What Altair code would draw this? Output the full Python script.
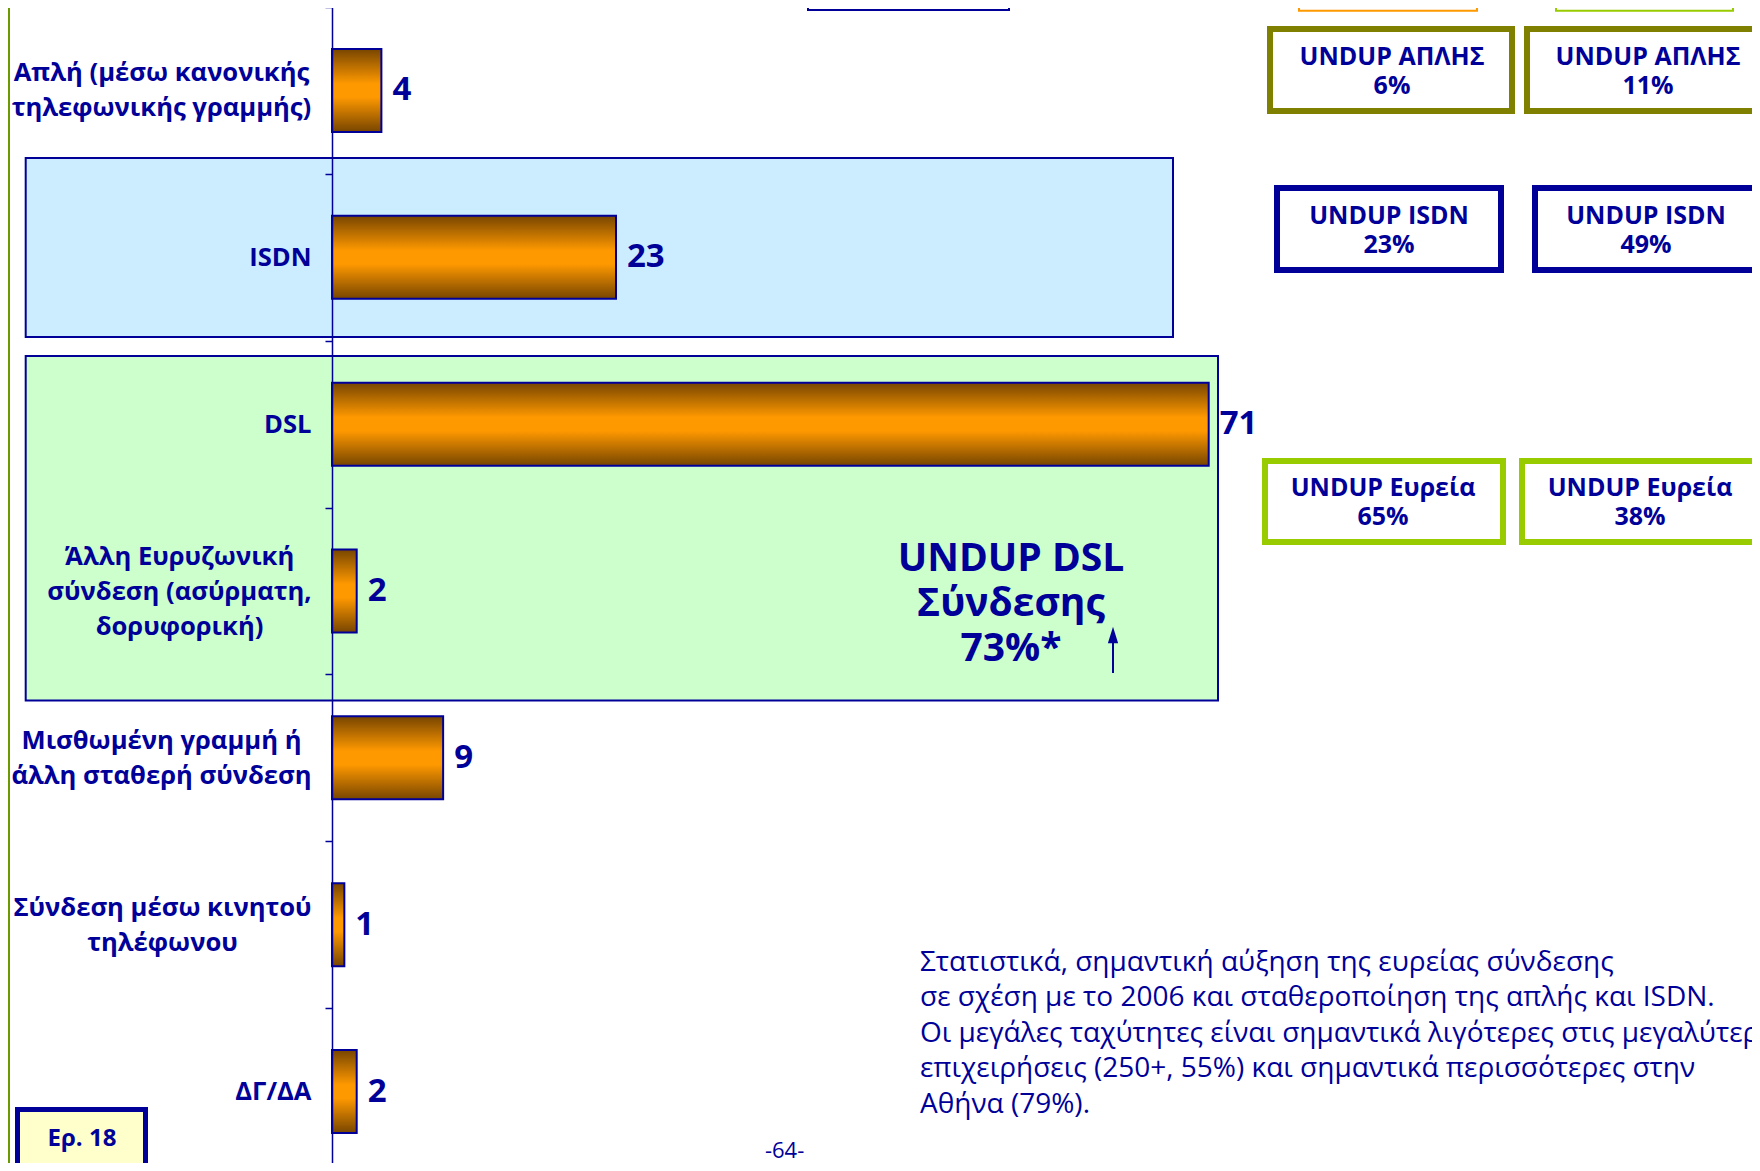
import altair as alt
import pandas as pd

# ---------------- data ----------------
categories = [
    "Απλή (μέσω κανονικής|τηλεφωνικής γραμμής)",
    "ISDN",
    "DSL",
    "Άλλη Ευρυζωνική|σύνδεση (ασύρματη,|δορυφορική)",
    "Μισθωμένη γραμμή ή|άλλη σταθερή σύνδεση",
    "Σύνδεση μέσω κινητού|τηλέφωνου",
    "ΔΓ/ΔΑ",
]
values = [4, 23, 71, 2, 9, 1, 2]

box_titles = ["UNDUP ΑΠΛΗΣ", "UNDUP ΑΠΛΗΣ", "UNDUP ISDN", "UNDUP ISDN", "UNDUP Ευρεία", "UNDUP Ευρεία"]
box_values = ["6%", "11%", "23%", "49%", "65%", "38%"]

dsl_note = ["UNDUP DSL", "Σύνδεσης", "73%*"]
paragraph = [
    "Στατιστικά, σημαντική αύξηση της ευρείας σύνδεσης",
    "σε σχέση με το 2006 και σταθεροποίηση της απλής και ISDN.",
    "Οι μεγάλες ταχύτητες είναι σημαντικά λιγότερες στις μεγαλύτερες",
    "επιχειρήσεις (250+, 55%) και σημαντικά περισσότερες στην",
    "Αθήνα (79%).",
]
question_label = "Ερ. 18"
page_label = "-64-"

# ---------------- style ----------------
NAVY = "#000099"
FONT = "Open Sans"
OX, OY = 332, 8          # page position of the plot origin
PAD_LEFT = OX - 8
LABEL_LH = 35
TICK = 7
LABEL_SIZE = 25.6

# per-label horizontal centre distance (from tick end) for the multi-line labels
label_centre_pad = {
    categories[0]: 164,
    categories[3]: 146,
    categories[4]: 164,
    categories[5]: 163,
}

df = pd.DataFrame({"cat": categories, "val": values})
one = alt.Data(values=[{"a": 1}])


def px(x):
    return x - OX


def py(y):
    return y - OY


def rect(x1, y1, x2, y2, fill, stroke, sw):
    return alt.Chart(one).mark_rect(
        fill=fill, stroke=stroke, strokeWidth=sw
    ).encode(
        x=alt.value(px(x1)), x2=alt.value(px(x2)),
        y=alt.value(py(y1)), y2=alt.value(py(y2)),
    )


def text(lines, x, y, size, weight="bold", align="center", lh=None):
    kw = dict(text=lines, fontSize=size, font=FONT, fontWeight=weight,
              align=align, baseline="middle", color=NAVY)
    if lh is not None:
        kw["lineHeight"] = lh
    return alt.Chart(one).mark_text(**kw).encode(
        x=alt.value(px(x)), y=alt.value(py(y))
    )


def q(s):
    return "'" + s.replace("'", "\\'") + "'"


grad = alt.LinearGradient(
    gradient="linear",
    stops=[
        alt.GradientStop(color="#774500", offset=0),
        alt.GradientStop(color="#FF9900", offset=0.42),
        alt.GradientStop(color="#FF9900", offset=0.58),
        alt.GradientStop(color="#774500", offset=1),
    ],
    x1=0, x2=0, y1=0, y2=1,
)

n_lines_expr = "length(split(datum.value, '|'))"
label_offset = {
    "condition": [
        {"test": n_lines_expr + " == 3", "value": -LABEL_LH},
        {"test": n_lines_expr + " == 2", "value": -LABEL_LH / 2},
    ],
    "value": 0,
}
label_align = {
    "condition": {"test": n_lines_expr + " > 1", "value": "center"},
    "value": "right",
}
label_padding = {
    "condition": [
        {"test": "datum.value == " + q(k), "value": v} for k, v in label_centre_pad.items()
    ],
    "value": 14,
}

y_enc = alt.Y(
    "cat:N", sort=categories,
    scale=alt.Scale(range=[-1, 1167], paddingInner=0, paddingOuter=0),
    axis=alt.Axis(
        title=None, labelExpr="split(datum.label, '|')",
        labelFont=FONT, labelFontWeight="bold", labelFontSize=LABEL_SIZE,
        labelColor=NAVY, labelLineHeight=LABEL_LH, labelLimit=500,
        labelPadding=label_padding, labelAlign=label_align,
        labelOffset=label_offset, labelBaseline="middle",
        tickSize=TICK, tickColor=NAVY, tickWidth=1.5, tickBand="extent",
        domainColor=NAVY, domainWidth=1.5, zindex=1,
    ),
)
x_enc = alt.X("val:Q", scale=alt.Scale(domain=[0, 115], nice=False, zero=True), axis=None)

# shaded group boxes
blue_box = rect(25.7, 158, 1173, 337, "#CCECFF", NAVY, 2)
green_box = rect(25.7, 356, 1218, 700.5, "#CCFFCC", NAVY, 2)

bars = alt.Chart(df).mark_bar(size=83, fill=grad, stroke=NAVY, strokeWidth=2).encode(
    x=x_enc, y=y_enc
)
labels = alt.Chart(df).mark_text(
    align="left", baseline="middle", dx=11, fontSize=33, font=FONT,
    fontWeight="bold", color=NAVY
).encode(x=x_enc, y=y_enc, text="val:Q")

# right-hand boxes
OLIVE, LIME = "#808000", "#99CC00"
box_specs = [
    (1270, 29, 1512, 111, OLIVE, 1392, 57),
    (1527, 29, 1800, 111, OLIVE, 1648, 57),
    (1277, 188, 1501, 270, NAVY, 1389, 216),
    (1535, 188, 1800, 270, NAVY, 1646, 216),
    (1265, 461, 1503, 542, LIME, 1383, 488),
    (1522, 461, 1800, 542, LIME, 1640, 488),
]
right_layers = []
for (x1, y1, x2, y2, col, tx, ty), t, v in zip(box_specs, box_titles, box_values):
    right_layers.append(rect(x1, y1, x2, y2, "white", col, 6))
    right_layers.append(text([t, v], tx, ty, 25, lh=29))

# partially visible boxes at the very top
top_boxes = [
    rect(808, -60, 1009, 10, "white", NAVY, 2),
    rect(1299, -60, 1477, 10.7, "white", "#FF9900", 2),
    rect(1556, -60, 1733, 10.7, "white", LIME, 2),
]

# DSL annotation with arrow
dsl_text = text(dsl_note, 1011, 559, 39, lh=45)
arrow_shaft = alt.Chart(one).mark_rule(color=NAVY, strokeWidth=2).encode(
    x=alt.value(px(1113)), y=alt.value(py(641)), y2=alt.value(py(673))
)
arrow_head = alt.Chart(one).mark_point(
    shape="M0,-1L0.5,0.6L-0.5,0.6Z", size=420, filled=True, color=NAVY, opacity=1
).encode(x=alt.value(px(1113)), y=alt.value(py(637)))

para = text(paragraph, 920, 963, 28, weight="normal", align="left", lh=35.4)
page_num = text([page_label], 784.6, 1151, 22, weight="normal")

ep_box = rect(17.5, 1109.5, 145.5, 1167.5, "#FFFFCC", NAVY, 5)
ep_text = text([question_label], 82, 1139, 24)

green_strip = rect(-30, -60, 10, 1300, "#6B9A00", "#6B9A00", 0)

chart = alt.layer(
    blue_box, green_box, bars, labels,
    *right_layers, *top_boxes,
    dsl_text, arrow_shaft, arrow_head,
    para, page_num, ep_box, ep_text, green_strip,
).properties(
    width=1420, height=1155,
    autosize=alt.AutoSizeParams(type="none"),
    padding={"left": PAD_LEFT, "top": 0, "right": 0, "bottom": 0},
    background="white",
).configure_view(strokeWidth=0)

chart.save("out.html", embed_options={"renderer": "svg", "actions": False})
